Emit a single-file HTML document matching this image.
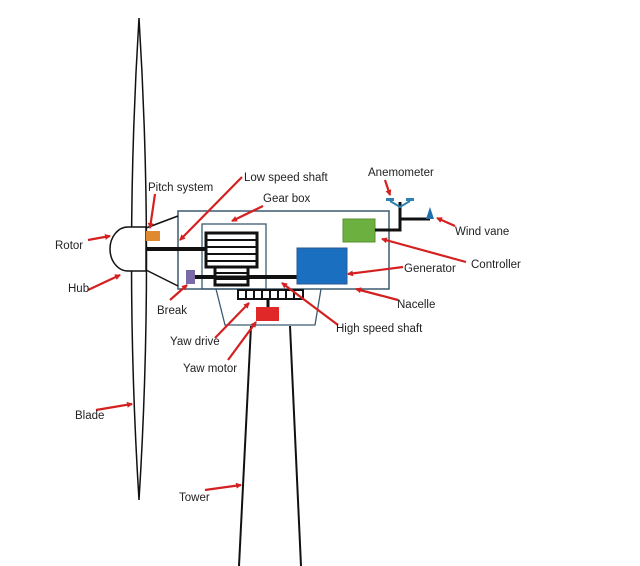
<!DOCTYPE html>
<html><head><style>body{margin:0;background:#fff}svg{display:block}text{font-family:"Liberation Sans",sans-serif;font-size:11.5px;fill:#222}</style></head>
<body>
<svg width="640" height="566" viewBox="0 0 640 566" xmlns="http://www.w3.org/2000/svg">
<defs><marker id="a" markerWidth="6" markerHeight="6" refX="5" refY="3" orient="auto" markerUnits="userSpaceOnUse" viewBox="0 0 6 6"><path d="M0,0 L6,3 L0,6 z" fill="#d42020"/></marker></defs>
<!-- blade -->
<path d="M139,18 Q124,260 139,500 Q154,260 139,18 Z" fill="#fff" stroke="#111" stroke-width="1.5"/>
<!-- tower -->
<line x1="251" y1="326" x2="239" y2="566" stroke="#111" stroke-width="2"/>
<line x1="290" y1="326" x2="301" y2="566" stroke="#111" stroke-width="2"/>
<!-- nacelle -->
<rect x="178" y="211" width="211" height="78" fill="none" stroke="#3c5a70" stroke-width="1.5"/>
<rect x="202" y="224" width="64" height="65" fill="none" stroke="#3c5a70" stroke-width="1.3"/>
<path d="M216,289 L225,325 L315,325 L321,289" fill="none" stroke="#3c5a70" stroke-width="1.3"/>
<!-- cone and hub -->
<path d="M178,216 L146,228 M178,286 L146,270" stroke="#111" stroke-width="1.5"/>
<path d="M146,227 L128,227 A18,22 0 0 0 128,271 L146,271" fill="#fff" stroke="#111" stroke-width="1.5"/>
<line x1="146" y1="227" x2="146" y2="271" stroke="#111" stroke-width="1.5"/>
<!-- shafts -->
<line x1="146" y1="249" x2="207" y2="249" stroke="#111" stroke-width="4"/>
<line x1="190" y1="277" x2="298" y2="277" stroke="#111" stroke-width="4"/>
<!-- gears -->
<rect x="206" y="233" width="51" height="34" fill="#fff" stroke="#111" stroke-width="3"/>
<g stroke="#111" stroke-width="2"><line x1="206" y1="240" x2="257" y2="240"/><line x1="206" y1="247" x2="257" y2="247"/><line x1="206" y1="254" x2="257" y2="254"/><line x1="206" y1="261" x2="257" y2="261"/></g>
<rect x="215" y="267" width="33" height="18" fill="#fff" stroke="#111" stroke-width="3"/>
<g stroke="#111" stroke-width="2"><line x1="215" y1="273" x2="248" y2="273"/><line x1="215" y1="279" x2="248" y2="279"/></g>
<line x1="190" y1="277" x2="298" y2="277" stroke="#111" stroke-width="3"/>
<!-- components -->
<rect x="146" y="231" width="14" height="10" fill="#e08a30"/>
<rect x="186" y="270" width="9" height="14" fill="#7a6aa8"/>
<rect x="297" y="248" width="50" height="36" fill="#1a6fc0" stroke="#2a5a90"/>
<rect x="343" y="219" width="32" height="23" fill="#6cb040" stroke="#5a9030"/>
<!-- yaw drive -->
<rect x="238" y="290" width="65" height="9" fill="#fff" stroke="#111" stroke-width="2"/>
<g stroke="#111" stroke-width="2"><line x1="246" y1="290" x2="246" y2="299"/><line x1="254" y1="290" x2="254" y2="299"/><line x1="262" y1="290" x2="262" y2="299"/><line x1="270" y1="290" x2="270" y2="299"/><line x1="278" y1="290" x2="278" y2="299"/><line x1="286" y1="290" x2="286" y2="299"/><line x1="294" y1="290" x2="294" y2="299"/></g>
<line x1="268" y1="299" x2="268" y2="308" stroke="#111" stroke-width="3"/>
<rect x="256" y="307" width="23" height="14" fill="#e02828"/>
<!-- anemometer -->
<path d="M375,230 L400,230 L400,202 M400,219 L430,219" fill="none" stroke="#111" stroke-width="3"/>
<path d="M390,201 L400,207 L410,201" fill="none" stroke="#3080b0" stroke-width="2"/>
<rect x="386" y="198" width="8" height="3" fill="#3080b0"/><rect x="406" y="198" width="8" height="3" fill="#3080b0"/>
<path d="M426,219 L430,207 L434,219 Z" fill="#2070b0"/>
<!-- arrows -->
<g stroke="#d42020" stroke-width="2.2" fill="none" marker-end="url(#a)">
<line x1="88" y1="240" x2="110" y2="236"/>
<line x1="88" y1="290" x2="120" y2="275"/>
<line x1="96" y1="410" x2="132" y2="404"/>
<line x1="155" y1="194" x2="150" y2="228"/>
<line x1="242" y1="177" x2="180" y2="240"/>
<line x1="263" y1="206" x2="232" y2="221"/>
<line x1="170" y1="300" x2="187" y2="285"/>
<line x1="385" y1="180" x2="390" y2="195"/>
<line x1="455" y1="226" x2="437" y2="218"/>
<line x1="466" y1="262" x2="382" y2="239"/>
<line x1="403" y1="267" x2="348" y2="274"/>
<line x1="398" y1="300" x2="356" y2="289"/>
<line x1="338" y1="325" x2="282" y2="283"/>
<line x1="215" y1="338" x2="249" y2="303"/>
<line x1="228" y1="360" x2="256" y2="322"/>
<line x1="205" y1="490" x2="241" y2="485"/>
</g>
<!-- labels -->
<text x="55" y="249">Rotor</text>
<text x="68" y="292">Hub</text>
<text x="75" y="419">Blade</text>
<text x="148" y="191">Pitch system</text>
<text x="244" y="181">Low speed shaft</text>
<text x="263" y="202">Gear box</text>
<text x="157" y="314">Break</text>
<text x="368" y="176">Anemometer</text>
<text x="455" y="235">Wind vane</text>
<text x="471" y="268">Controller</text>
<text x="404" y="272">Generator</text>
<text x="397" y="308">Nacelle</text>
<text x="336" y="332">High speed shaft</text>
<text x="170" y="345">Yaw drive</text>
<text x="183" y="372">Yaw motor</text>
<text x="179" y="501">Tower</text>
</svg>
</body></html>
